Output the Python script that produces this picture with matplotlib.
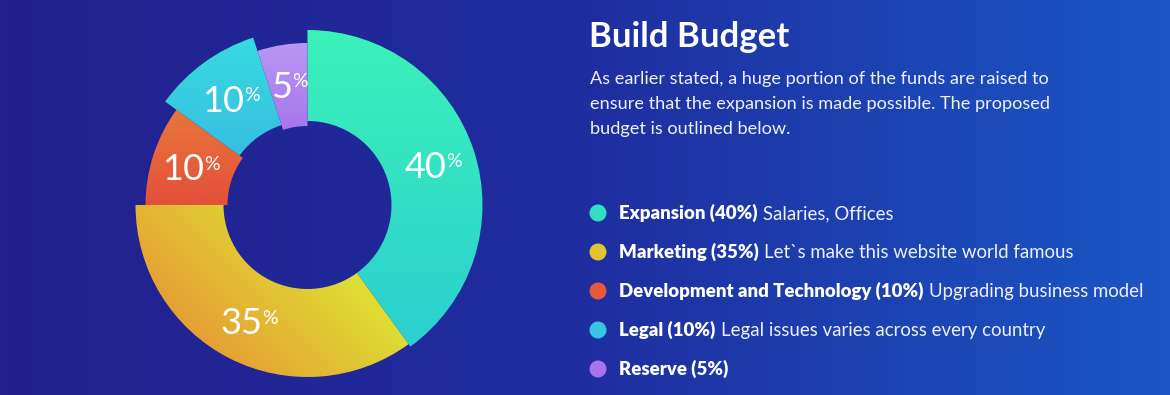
"""Build Budget donut with legend on a gradient banner."""
import numpy as np
import matplotlib
matplotlib.use("Agg")
import matplotlib.pyplot as plt
from matplotlib.patches import Wedge, Circle
from matplotlib.colors import LinearSegmentedColormap

# data
categories = ["Expansion", "Marketing", "Development and Technology", "Legal", "Reserve"]
shares = [40, 35, 10, 10, 5]
notes = ["Salaries, Offices", "Let`s make this website world famous",
         "Upgrading business model", "Legal issues varies across every country", ""]

title = "Build Budget"
intro = ("As earlier stated, a huge portion of the funds are raised to\n"
         "ensure that the expansion is made possible. The proposed\n"
         "budget is outlined below.")

# styling (pixel units)
W, H = 1170, 395
CX, CY = 307.5, 205
outer_r = [175, 172, 162, 176, 162]
inner_r = [84, 84, 80, 84, 79]
# gradient stops per slice: (start colour, end colour, direction in degrees)
grads = [("#3bf2b8", "#2bcfd0", -90),
         ("#dde633", "#e6a034", -135),
         ("#e8763a", "#e4503a", -90),
         ("#38dae0", "#36b2e2", -90),
         ("#b898f2", "#9a58e6", -90)]
dot_colors = ["#30e0c4", "#e2c430", "#e65a3a", "#36c6e2", "#a874ec"]
FONT = "Lato"

fig = plt.figure(figsize=(W / 100, H / 100), dpi=100)

# background banner
bg = fig.add_axes([0, 0, 1, 1])
bg.set_xlim(0, W); bg.set_ylim(H, 0); bg.axis("off")
bg_cmap = LinearSegmentedColormap.from_list("bg", ["#231f8d", "#1f2ea0", "#1b56c4"])
bg.imshow(np.linspace(0, 1, 256)[None, :], cmap=bg_cmap, aspect="auto",
          extent=[0, W, H, 0], zorder=0)

# donut axes, pixel units centred on the ring
R = 195
dax = fig.add_axes([(CX - R) / W, (H - CY - R) / H, 2 * R / W, 2 * R / H])
dax.set_xlim(-R, R); dax.set_ylim(-R, R); dax.axis("off")
dax.set_facecolor("none")

ends = 90 - np.cumsum(shares) / np.sum(shares) * 360
starts = np.concatenate([[90], ends[:-1]])
yy, xx = np.mgrid[-R:R:400j, -R:R:400j]
for i, (a0, a1) in enumerate(zip(starts, ends)):
    c0, c1, ang = grads[i]
    w = Wedge((0, 0), outer_r[i], a1, a0, width=outer_r[i] - inner_r[i],
              facecolor="none", edgecolor="none")
    dax.add_patch(w)
    d = np.deg2rad(ang)
    proj = xx * np.cos(d) + yy * np.sin(d)
    # stretch the gradient over the slice only
    inside = np.hypot(xx, yy) <= outer_r[i]
    th = np.rad2deg(np.arctan2(yy, xx))
    sel = inside & (((th - a1) % 360) <= ((a0 - a1) % 360 or 360))
    lo, hi = proj[sel].min(), proj[sel].max()
    g = np.clip((proj - lo) / (hi - lo), 0, 1)
    cm = LinearSegmentedColormap.from_list(f"s{i}", [c0, c1])
    im = dax.imshow(g, cmap=cm, extent=[-R, R, -R, R], origin="lower",
                    interpolation="bilinear", zorder=2)
    im.set_clip_path(w)

    mid = np.deg2rad((a0 + a1) / 2)
    rl = (outer_r[i] + inner_r[i]) / 2 + 2
    lx, ly = rl * np.cos(mid), rl * np.sin(mid)
    num = dax.text(lx - 7, ly - 3, f"{shares[i]}", ha="center", va="center",
                   fontsize=26, color="white", family=FONT, zorder=4)
    dax.annotate("%", xy=(1, 0.93), xycoords=num, xytext=(0, 0),
                 textcoords="offset points", ha="left", va="top",
                 fontsize=14, color="white", family=FONT, zorder=4)

# right side text
bg.text(589, 47, title, fontsize=25, fontweight="bold", color="white",
        family=FONT, va="baseline")
bg.text(590, 134, intro, fontsize=13.1, color="#eef0fa", family=FONT,
        va="baseline", linespacing=1.68)

legend_y0, legend_step = 213, 39
for i, name in enumerate(categories):
    y = legend_y0 + i * legend_step
    bg.add_patch(Circle((598, y), 8.5, facecolor=dot_colors[i], edgecolor="none"))
    lab = bg.text(619, y + 6, f"{name} ({shares[i]}%)", fontsize=13.4,
                  fontweight="heavy", color="white", family=FONT, va="baseline")
    if notes[i]:
        bg.annotate(notes[i], xy=(1, 0), xycoords=lab, xytext=(4, 0),
                    textcoords="offset points", ha="left", va="bottom",
                    fontsize=13.4, color="#eef0fa", family=FONT)

fig.savefig("out.png", dpi=100)
